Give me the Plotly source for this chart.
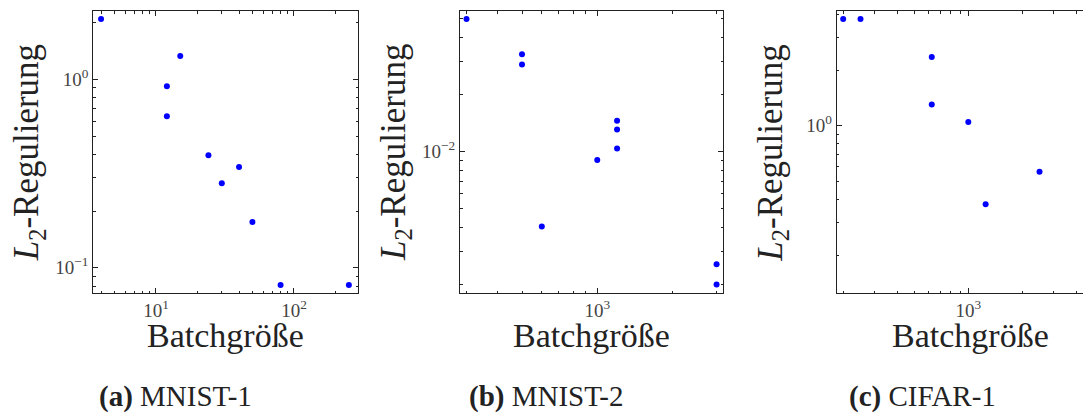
import plotly.graph_objects as go

# Batch sizes and L2 regularisation values
mnist1_batch = [4, 12, 12, 15, 24, 30, 40, 50, 80, 250]
mnist1_l2 = [2.09, 0.92, 0.637, 1.33, 0.395, 0.281, 0.343, 0.175, 0.081, 0.081]

mnist2_batch = [300, 500, 500, 600, 1000, 1200, 1200, 1200, 3000, 3000]
mnist2_l2 = [0.05, 0.0326, 0.0288, 0.00404, 0.00904, 0.01456, 0.0131, 0.0104, 0.00256, 0.0020]

cifar1_batch = [200, 250, 625, 625, 1000, 1250, 2500, 5000, 5000, 5000]
cifar1_l2 = [3.77, 3.77, 2.35, 1.305, 1.05, 0.377, 0.564, 0.2025, 0.1566, 0.137]

captions = ["MNIST-1", "MNIST-2", "CIFAR-1"]
letters = ["(a)", "(b)", "(c)"]

# the page body has an 8px margin; the third panel runs past the window edge
OFF = 8
W, H = 1105 - OFF, 414 - OFF
FONT = "Liberation Serif"
INK = "#222222"


def px_x(p):
    return (p - OFF) / W


def px_y(p):
    return 1 - (p - OFF) / H


def minor_vals(lo, hi):
    return [d * 10.0 ** k for k in range(lo, hi) for d in range(2, 10)]


def log_label(e):
    sign = "\u2212" if e < 0 else ""
    return f"10<sup>{sign}{abs(e)}</sup>"


panels = [
    dict(x=mnist1_batch, y=mnist1_l2, dom=(93.3, 358.0),
         xr=[0.546, 2.464], yr=[-1.134, 0.3625],
         xt=[1, 2], yt=[-1, 0], xm=(0, 3), ym=(-2, 1)),
    dict(x=mnist2_batch, y=mnist2_l2, dom=(460.0, 723.3),
         xr=[2.451, 3.504], yr=[-2.7437, -1.2595],
         xt=[3], yt=[-2], xm=(2, 4), ym=(-3, -1)),
    dict(x=cifar1_batch, y=cifar1_l2, dom=(836.7, 1100.7),
         xr=[2.2648, 3.7397], yr=[-0.903, 0.62],
         xt=[3], yt=[0], xm=(2, 4), ym=(-1, 1)),
]

fig = go.Figure()
layout = {}
annotations = []
for i, p in enumerate(panels, start=1):
    sfx = "" if i == 1 else str(i)
    fig.add_trace(
        go.Scatter(
            x=p["x"], y=p["y"], mode="markers",
            marker=dict(color="#0000ff", size=6, line=dict(width=0)),
            xaxis="x" + sfx, yaxis="y" + sfx, showlegend=False,
        )
    )
    common = dict(
        type="log", showgrid=False, zeroline=False, showline=True,
        linecolor=INK, linewidth=1, mirror="ticks",
        ticks="inside", ticklen=5, tickcolor=INK, tickwidth=1,
        tickfont=dict(family=FONT, size=19, color="#444444"),
        tickmode="array",
    )
    xm = minor_vals(*p["xm"])
    ym = minor_vals(*p["ym"])
    layout["xaxis" + sfx] = dict(
        common, domain=[px_x(p["dom"][0]), px_x(p["dom"][1])], range=p["xr"],
        anchor="y" + sfx,
        tickvals=[10 ** e for e in p["xt"]], ticktext=[log_label(e) for e in p["xt"]],
        minor=dict(tickvals=xm, ticks="inside", ticklen=2.5, tickcolor=INK, showgrid=False),
    )
    layout["yaxis" + sfx] = dict(
        common, domain=[px_y(293), px_y(11)], range=p["yr"], anchor="x" + sfx,
        tickvals=[10 ** e for e in p["yt"]], ticktext=[log_label(e) for e in p["yt"]],
        minor=dict(tickvals=ym, ticks="inside", ticklen=2.5, tickcolor=INK, showgrid=False),
    )
    cx = (p["dom"][0] + p["dom"][1]) / 2 if i < 3 else p["dom"][0] + 134
    annotations.append(dict(
        text="Batchgröße", x=px_x(cx), y=px_y(335), xref="paper", yref="paper",
        showarrow=False, xanchor="center", yanchor="middle",
        font=dict(family=FONT, size=34, color=INK),
    ))
    annotations.append(dict(
        text="<i>L</i><sub>2</sub>-Regulierung", x=px_x(p["dom"][0] - 65), y=px_y(153),
        xref="paper", yref="paper", showarrow=False, textangle=-90,
        xanchor="center", yanchor="middle",
        font=dict(family=FONT, size=35, color=INK),
    ))
    cap_left = [97, 467, 847][i - 1]
    annotations.append(dict(
        text=f"<b>{letters[i - 1]}</b> {captions[i - 1]}", x=px_x(cap_left), y=px_y(396),
        xref="paper", yref="paper", showarrow=False, xanchor="left", yanchor="middle",
        font=dict(family=FONT, size=29, color=INK),
    ))

fig.update_layout(
    width=W, height=H,
    margin=dict(l=0, r=0, t=0, b=0),
    paper_bgcolor="white", plot_bgcolor="white",
    annotations=annotations,
    **layout,
)
fig.write_html("out.html")
